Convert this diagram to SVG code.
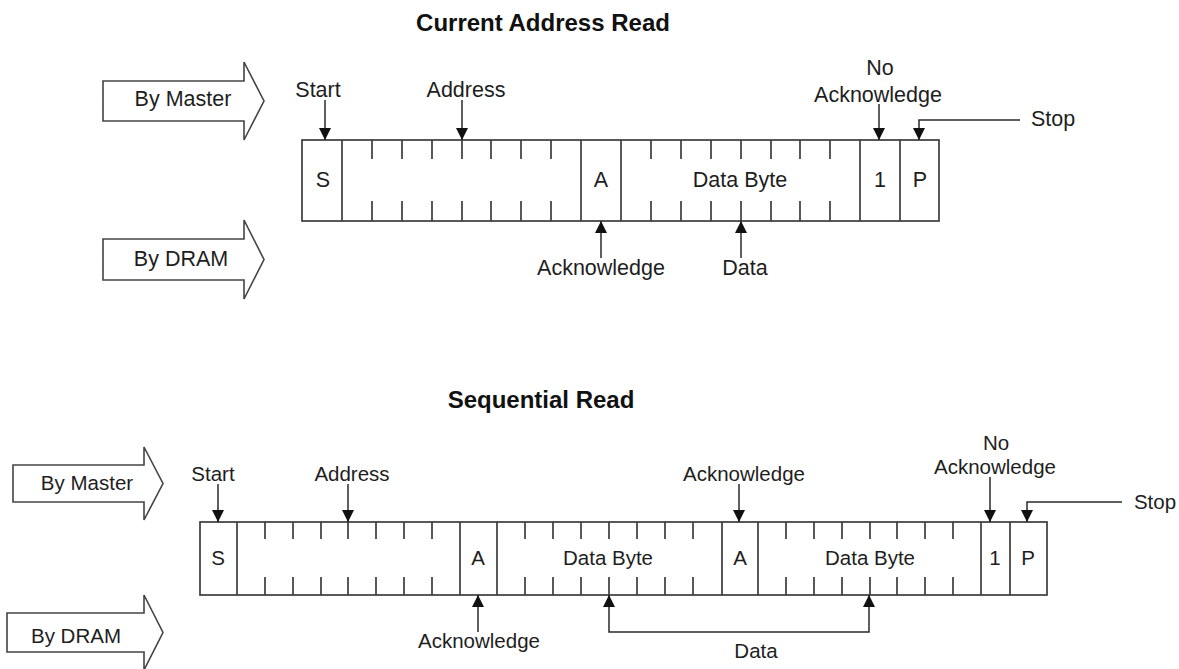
<svg xmlns="http://www.w3.org/2000/svg" width="1179" height="669" viewBox="0 0 1179 669">
<style>
  .bg{fill:#ffffff}
  .blk{fill:#ffffff;stroke:#444;stroke-width:1.6;stroke-linejoin:miter}
  .reg{fill:#ffffff;stroke:#3c3c3c;stroke-width:1.7}
  .tick{stroke:#3c3c3c;stroke-width:1.7;fill:none}
  .con{stroke:#2a2a2a;stroke-width:1.5;fill:none}
  .t1{font-family:"Liberation Sans",Arial,sans-serif;font-size:21.5px;fill:#1e1e1e;text-anchor:middle}
  .t2{font-family:"Liberation Sans",Arial,sans-serif;font-size:20.5px;fill:#1e1e1e;text-anchor:middle}
  .title{font-family:"Liberation Sans",Arial,sans-serif;font-size:24px;font-weight:bold;fill:#111;text-anchor:middle}
</style>
<defs>
  <marker id="ah" viewBox="0 0 10 10" refX="10" refY="5" markerWidth="12" markerHeight="12" markerUnits="userSpaceOnUse" orient="auto-start-reverse">
    <path d="M0,0 L10,5 L0,10 z" fill="#111"/>
  </marker>
</defs>
<rect class="bg" x="0" y="0" width="1179" height="669"/>

<!-- ===== Current Address Read ===== -->
<g id="title1"><text class="title" x="543" y="31">Current Address Read</text></g>

<g id="byMaster1">
  <polygon class="blk" points="103,81 244,81 244,62 264,101 244,140 244,121 103,121"/>
  <text class="t1" x="183" y="106">By Master</text>
</g>
<g id="byDram1">
  <polygon class="blk" points="103,239 244,239 244,220 264,259.5 244,299 244,280 103,280"/>
  <text class="t1" x="181" y="266">By DRAM</text>
</g>

<g id="register1">
  <rect class="reg" x="302" y="140" width="637" height="81"/>
  <path class="tick" d="M342,140V221 M581,140V221 M621,140V221 M860,140V221 M900,140V221"/>
  <path class="tick" d="M372,140V159 M402,140V159 M432,140V159 M462,140V159 M491,140V159 M521,140V159 M551,140V159
    M372,201V221 M402,201V221 M432,201V221 M462,201V221 M491,201V221 M521,201V221 M551,201V221
    M651,140V159 M681,140V159 M711,140V159 M741,140V159 M771,140V159 M800,140V159 M830,140V159
    M651,201V221 M681,201V221 M711,201V221 M741,201V221 M771,201V221 M800,201V221 M830,201V221"/>
  <text class="t1" x="323" y="187">S</text>
  <text class="t1" x="601" y="187">A</text>
  <text class="t1" x="740" y="187">Data Byte</text>
  <text class="t1" x="880" y="187">1</text>
  <text class="t1" x="920" y="187">P</text>
</g>

<g id="labels1">
  <text class="t1" x="318" y="97">Start</text>
  <text class="t1" x="466" y="97">Address</text>
  <text class="t1" x="880" y="75">No</text>
  <text class="t1" x="878" y="102">Acknowledge</text>
  <text class="t1" x="1053" y="126">Stop</text>
  <text class="t1" x="601" y="275">Acknowledge</text>
  <text class="t1" x="745" y="275">Data</text>
</g>

<!-- ===== Sequential Read ===== -->
<g id="title2"><text class="title" x="541" y="408">Sequential Read</text></g>

<g id="byMaster2">
  <polygon class="blk" points="13,465 144,465 144,447 163,483.5 144,520 144,502 13,502"/>
  <text class="t2" x="87" y="490">By Master</text>
</g>
<g id="byDram2">
  <polygon class="blk" points="7,613 144,613 144,595 163,632.5 144,670 144,652 7,652"/>
  <text class="t2" x="76" y="643">By DRAM</text>
</g>

<g id="register2">
  <rect class="reg" x="200" y="522" width="847" height="73"/>
  <path class="tick" d="M237,522V595 M460,522V595 M497,522V595 M722,522V595 M758,522V595 M981,522V595 M1010,522V595"/>
  <path class="tick" d="M265,522V539 M293,522V539 M321,522V539 M348,522V539 M376,522V539 M404,522V539 M432,522V539
    M265,577V595 M293,577V595 M321,577V595 M348,577V595 M376,577V595 M404,577V595 M432,577V595
    M525,522V539 M553,522V539 M581,522V539 M609,522V539 M637,522V539 M665,522V539 M693,522V539
    M525,577V595 M553,577V595 M581,577V595 M609,577V595 M637,577V595 M665,577V595 M693,577V595
    M786,522V539 M814,522V539 M842,522V539 M870,522V539 M897,522V539 M925,522V539 M953,522V539
    M786,577V595 M814,577V595 M842,577V595 M870,577V595 M897,577V595 M925,577V595 M953,577V595"/>
  <text class="t2" x="218" y="565">S</text>
  <text class="t2" x="478" y="565">A</text>
  <text class="t2" x="608" y="565">Data Byte</text>
  <text class="t2" x="740" y="565">A</text>
  <text class="t2" x="870" y="565">Data Byte</text>
  <text class="t2" x="995" y="565">1</text>
  <text class="t2" x="1028" y="565">P</text>
</g>

<g id="labels2">
  <text class="t2" x="213" y="481">Start</text>
  <text class="t2" x="352" y="481">Address</text>
  <text class="t2" x="744" y="481">Acknowledge</text>
  <text class="t2" x="996" y="450">No</text>
  <text class="t2" x="995" y="474">Acknowledge</text>
  <text class="t2" x="1155" y="509">Stop</text>
  <text class="t2" x="479" y="648">Acknowledge</text>
  <text class="t2" x="756" y="658">Data</text>
</g>

<g id="connectors">
  <path class="con" marker-end="url(#ah)" d="M325,100V140"/>
  <path class="con" marker-end="url(#ah)" d="M462,100V140"/>
  <path class="con" marker-end="url(#ah)" d="M879,104V140"/>
  <path class="con" marker-end="url(#ah)" d="M1020,120H919V140"/>
  <path class="con" marker-end="url(#ah)" d="M601,258V221"/>
  <path class="con" marker-end="url(#ah)" d="M741,258V221"/>

  <path class="con" marker-end="url(#ah)" d="M218,484V522"/>
  <path class="con" marker-end="url(#ah)" d="M348,484V522"/>
  <path class="con" marker-end="url(#ah)" d="M739,484V522"/>
  <path class="con" marker-end="url(#ah)" d="M990,477V522"/>
  <path class="con" marker-end="url(#ah)" d="M1122,502H1027V522"/>
  <path class="con" marker-end="url(#ah)" d="M478,632V595"/>
  <path class="con" marker-start="url(#ah)" marker-end="url(#ah)" d="M609,595V632H869V595"/>
</g>
</svg>
